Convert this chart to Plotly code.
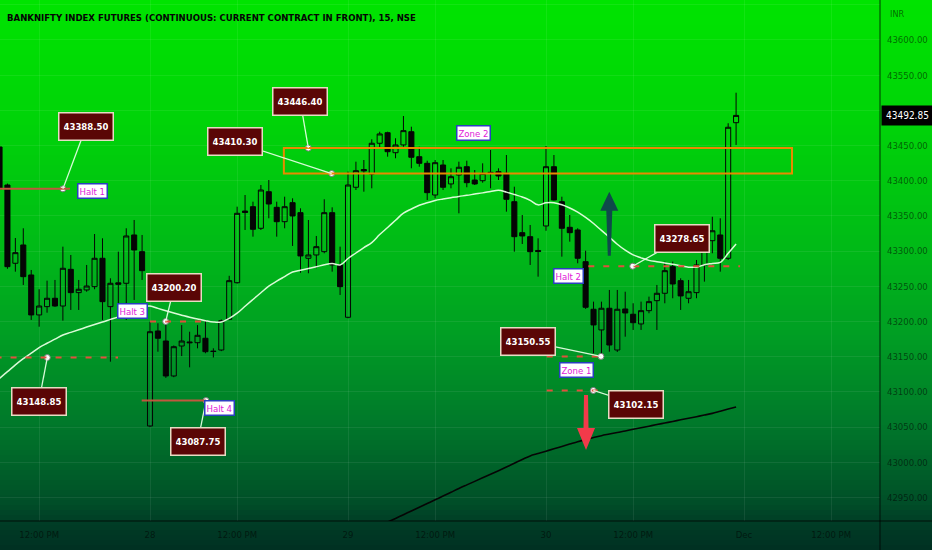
import plotly.graph_objects as go

# ---------------- data ----------------
bar_index = list(range(-19, 75))   # 15-minute bars, 0 = 28 Nov 09:15

opens = [43448.0, 43394.0, 43282.8, 43308.8, 43266.2, 43209.4, 43221.2, 43233.1, 43222.1, 43274.2,
         43241.1, 43244.9, 43249.6, 43289.9, 43221.2, 43255.0, 43254.4, 43323.0, 43299.3,
         43051.7, 43186.6, 43172.4, 43122.7, 43165.3, 43171.0, 43170.0, 43176.3, 43158.0, 43159.6,
         43203.2, 43255.2, 43357.0, 43363.2, 43332.5, 43384.5, 43362.3, 43341.9, 43368.9, 43354.7,
         43289.9, 43294.6, 43299.3, 43354.7, 43280.4,
         43206.1, 43390.8, 43416.0, 43409.6, 43453.3, 43468.3, 43439.9, 43450.9, 43469.7, 43434.2,
         43424.8, 43379.8, 43422.4, 43395.5, 43408.2, 43420.0, 43401.1, 43400.1, 43412.0, 43412.9,
         43410.6, 43370.3, 43326.3, 43320.6, 43301.0,
         43335.8, 43420.0, 43370.3, 43333.9, 43330.1, 43285.1, 43217.5, 43188.1, 43218.9, 43159.6,
         43217.9, 43210.4, 43196.6, 43215.5, 43229.7, 43240.2, 43278.0, 43258.1, 43233.1, 43241.1,
         43280.4, 43314.9, 43323.0, 43289.9, 43482.5]
highs = [43452.0, 43396.0, 43318.7, 43332.5, 43273.3, 43245.9, 43258.1, 43259.1, 43306.4, 43294.6,
         43259.1, 43280.4, 43324.4, 43318.3, 43261.5, 43299.3, 43332.5, 43344.3, 43323.0,
         43199.8, 43197.6, 43200.2, 43166.0, 43195.0, 43185.6, 43195.0, 43201.3, 43162.0, 43203.0,
         43265.0, 43363.2, 43379.8, 43370.3, 43394.0, 43401.1, 43370.3, 43377.4, 43375.1, 43360.9,
         43344.3, 43321.6, 43373.7, 43362.3, 43306.4,
         43413.0, 43427.1, 43429.5, 43458.9, 43469.7, 43469.7, 43460.4, 43492.0, 43476.8, 43448.4,
         43428.5, 43429.5, 43429.5, 43417.7, 43427.1, 43428.5, 43415.3, 43424.8, 43443.7, 43417.7,
         43436.6, 43391.6, 43351.4, 43337.2, 43318.3,
         43449.4, 43436.6, 43377.4, 43351.4, 43332.5, 43300.7, 43228.3, 43228.3, 43244.9, 43244.9,
         43242.4, 43226.0, 43228.3, 43235.4, 43252.0, 43285.1, 43285.1, 43261.5, 43259.1, 43287.5,
         43311.6, 43348.9, 43346.7, 43481.7, 43525.1]
lows = [43386.0, 43275.0, 43270.9, 43252.0, 43202.3, 43192.7, 43212.6, 43221.0, 43201.3, 43216.5,
        43216.5, 43242.4, 43245.9, 43202.3, 43143.0, 43226.0, 43202.3, 43230.7, 43259.1,
        43050.0, 43157.2, 43120.0, 43121.0, 43151.0, 43135.0, 43162.0, 43155.0, 43149.0, 43158.0,
        43202.0, 43254.0, 43330.1, 43320.6, 43330.1, 43346.7, 43320.6, 43332.5, 43307.4, 43269.4,
        43268.6, 43275.7, 43297.0, 43270.9, 43237.8,
        43204.7, 43386.9, 43384.5, 43389.3, 43446.0, 43434.2, 43432.0, 43448.4, 43417.7, 43420.0,
        43372.7, 43375.1, 43386.9, 43389.3, 43353.8, 43390.8, 43394.0, 43397.3, 43389.3, 43401.1,
        43356.1, 43299.3, 43310.2, 43280.4, 43263.8,
        43329.0, 43372.0, 43292.2, 43313.5, 43282.8, 43218.0, 43155.0, 43150.55, 43157.2, 43156.8,
        43178.5, 43188.1, 43188.1, 43211.8, 43188.1, 43226.0, 43233.1, 43216.5, 43226.0, 43233.1,
        43256.7, 43297.0, 43270.9, 43287.5, 43450.9]
closes = [43388.5, 43278.0, 43297.9, 43263.8, 43209.4, 43222.1, 43233.1, 43222.1, 43275.7, 43241.1,
          43245.9, 43250.5, 43289.9, 43228.3, 43254.4, 43253.0, 43321.6, 43301.7, 43272.3,
          43185.6, 43176.3, 43122.7, 43164.3, 43172.4, 43170.0, 43180.5, 43157.2, 43157.5, 43201.3,
          43258.1, 43353.8, 43355.0, 43331.1, 43386.9, 43367.0, 43341.9, 43363.2, 43350.0, 43293.2,
          43294.6, 43306.4, 43354.7, 43280.4, 43249.6,
          43394.0, 43414.3, 43414.0, 43453.3, 43466.5, 43441.3, 43450.9, 43471.2, 43433.4, 43424.8,
          43383.1, 43425.7, 43390.8, 43405.8, 43419.2, 43397.3, 43395.5, 43410.6, 43411.0, 43406.8,
          43373.7, 43320.6, 43321.6, 43299.3, 43299.5,
          43420.0, 43372.7, 43332.5, 43326.3, 43289.9, 43220.3, 43195.2, 43218.9, 43166.7, 43217.5,
          43212.2, 43198.4, 43215.5, 43228.3, 43240.2, 43272.3, 43253.4, 43236.4, 43242.4, 43280.4,
          43306.4, 43329.0, 43289.9, 43476.0, 43492.85]

# white moving average (one value per bar, bar_index order)
ma_fast = [43119.4, 43128.8, 43138.5, 43147.3, 43155.1, 43163.1, 43169.2, 43175.0, 43181.0, 43184.6,
           43188.3, 43192.2, 43195.9, 43199.4, 43203.1, 43206.7, 43211.3, 43216.2, 43220.9,
           43222.1, 43218.7, 43215.5, 43212.2, 43209.1, 43206.1, 43203.7, 43201.3, 43199.4, 43199.4,
           43204.5, 43211.9, 43221.7, 43231.4, 43240.9, 43250.4, 43257.4, 43263.9, 43270.4, 43273.0,
           43275.4, 43277.8, 43280.7, 43282.4, 43280.4,
           43289.6, 43297.4, 43305.1, 43312.2, 43323.6, 43333.7, 43343.9, 43354.0, 43359.9, 43365.2,
           43368.7, 43372.0, 43374.1, 43376.0, 43377.8, 43379.3, 43381.1, 43382.8, 43384.8, 43386.6,
           43383.9, 43380.4, 43377.0, 43372.2, 43365.8,
           43368.7, 43368.9, 43366.0, 43361.4, 43355.5, 43347.9, 43339.3, 43329.5, 43319.9, 43309.8,
           43301.4, 43294.7, 43290.5, 43286.9, 43285.1, 43283.2, 43281.4, 43279.2, 43277.3, 43277.3,
           43280.8, 43282.5, 43284.1, 43296.9, 43310.2]

# black (slow) moving average, bars 28..74
ma_slow_index = list(range(28, 75))
ma_slow = [42904.5, 42909.9, 42915.2, 42920.4, 42925.7, 42930.9, 42936.2, 42941.5, 42946.9, 42952.1,
           42957.5, 42962.9, 42968.0, 42973.0, 42978.1, 42983.2, 42988.2, 42993.4, 42998.7, 43004.0,
           43009.2, 43012.5, 43015.9, 43019.3, 43022.6, 43026.0, 43029.4, 43032.4, 43035.2, 43037.9,
           43040.2, 43042.5, 43044.6, 43046.9, 43049.1, 43051.4, 43053.7, 43055.9, 43058.1, 43060.4,
           43062.6, 43064.9, 43067.2, 43069.6, 43072.7, 43075.7, 43078.7]

x_tick_pos = [-14, 0, 11, 25, 36, 50, 61, 75, 86]
x_tick_text = ["12:00 PM", "28", "12:00 PM", "29", "12:00 PM", "30", "12:00 PM", "Dec", "12:00 PM"]

# price levels: (value text, price, anchor bar, label box bar, label box price)
level_labels = [
    ("43388.50", 43388.50, -11.0, -8.04, 43477.4),
    ("43148.85", 43148.85, -12.97, -14.03, 43086.5),
    ("43200.20", 43200.20, 1.98, 3.05, 43249.1),
    ("43087.75", 43087.75, 7.07, 6.05, 43030.1),
    ("43446.40", 43446.40, 19.99, 18.98, 43512.6),
    ("43410.30", 43410.30, 22.94, 10.73, 43455.1),
    ("43278.65", 43278.65, 60.95, 67.23, 43318.7),
    ("43150.55", 43150.55, 56.94, 47.73, 43172.1),
    ("43102.15", 43102.15, 55.97, 61.30, 43082.9),
]
# level lines: (price, start bar, end bar, dashed)
level_lines = [
    (43388.50, -19.5, -10.1, False),
    (43148.85, -19.5, -4.04, True),
    (43200.20, 0.0, 7.16, True),
    (43087.75, -1.05, 7.07, False),
    (43278.65, 55.34, 74.5, True),
    (43150.55, 50.09, 56.8, True),
    (43102.15, 50.09, 57.03, True),
]
tag_labels = [
    ("Halt 1", -7.26, 43384.8),
    ("Halt 3", -2.21, 43215.0),
    ("Halt 4", 8.78, 43077.3),
    ("Zone 2", 40.9, 43467.2),
    ("Halt 2", 52.8, 43264.1),
    ("Zone 1", 53.9, 43131.9),
]
zone2 = (16.9, 81.06, 43410.30, 43446.40)
last_price = 43492.85

# ---------------- figure ----------------
W, H = 932, 550
ML, MR, MT, MB = 0, 52, 0, 29
plot_w, plot_h = W - ML - MR, H - MT - MB
FONT = "DejaVu Sans Condensed, Roboto, sans-serif"

fig = go.Figure()

# background gradient (styling)
stops = [(0, (0, 228, 0)), (120, (0, 212, 8)), (240, (0, 188, 22)), (330, (0, 160, 35)),
         (420, (0, 122, 42)), (500, (0, 80, 40)), (521, (0, 62, 38)), (550, (0, 48, 34))]

def col_at(yp):
    for (y0, c0), (y1, c1) in zip(stops[:-1], stops[1:]):
        if y0 <= yp <= y1:
            t = (yp - y0) / (y1 - y0)
            return tuple(round(a + (b - a) * t) for a, b in zip(c0, c1))
    return stops[-1][1]

shapes = []
step = 5
for y in range(0, H, step):
    c = col_at(y + step / 2)
    shapes.append(dict(type="rect", xref="paper", yref="paper", layer="below",
                       x0=0, x1=W / plot_w, y0=(plot_h - y) / plot_h, y1=(plot_h - y - step - 1) / plot_h,
                       line=dict(width=0), fillcolor="rgb(%d,%d,%d)" % c))

# axis border lines
shapes.append(dict(type="line", xref="paper", yref="paper", x0=0, x1=W / plot_w, y0=0, y1=0,
                   line=dict(color="rgba(0,0,0,0.75)", width=1)))
shapes.append(dict(type="line", xref="paper", yref="paper", x0=1, x1=1, y0=-MB / plot_h, y1=1,
                   line=dict(color="rgba(0,0,0,0.75)", width=1)))

# zone 2 rectangle
shapes.append(dict(type="rect", xref="x", yref="y", x0=zone2[0], x1=zone2[1], y0=zone2[2], y1=zone2[3],
                   line=dict(color="#e88a00", width=2), fillcolor="rgba(0,0,0,0)"))

# level lines
for price, xa, xb, dashed in level_lines:
    shapes.append(dict(type="line", xref="x", yref="y", x0=xa, x1=xb, y0=price, y1=price,
                       line=dict(color="#e0503c" if dashed else "#c0583e", width=2,
                                 dash="6px,9px" if dashed else "solid")))

# connectors
for txt, price, xp, xb, yb in level_labels:
    shapes.append(dict(type="line", xref="x", yref="y", x0=xp, y0=price, x1=xb, y1=yb,
                       line=dict(color="rgba(225,255,225,0.95)", width=1.3)))

# arrows (pixel-sized paths anchored at tip)
shapes.append(dict(type="path", xref="x", yref="y", xsizemode="pixel", ysizemode="pixel",
                   xanchor=57.99, yanchor=43384.5,
                   path="M0,0 L9,-19 L3,-19 L1.5,-64 L-1.5,-64 L-3,-19 L-9,-19 Z",
                   fillcolor="#0f4a4a", line=dict(width=0)))
shapes.append(dict(type="path", xref="x", yref="y", xsizemode="pixel", ysizemode="pixel",
                   xanchor=55.05, yanchor=43017.6,
                   path="M0,0 L-9,22 L-2.5,22 L-2,55 L2,55 L2.5,22 L9,22 Z",
                   fillcolor="#f23a4a", line=dict(width=0)))

# slow MA (black)
fig.add_trace(go.Scatter(x=ma_slow_index, y=ma_slow, mode="lines", line_shape="spline",
                         line=dict(color="#050505", width=1.6), hoverinfo="skip"))
# candles
fig.add_trace(go.Candlestick(x=bar_index, open=opens, high=highs, low=lows, close=closes,
                             increasing=dict(line=dict(color="#050505", width=1), fillcolor="rgba(0,0,0,0)"),
                             decreasing=dict(line=dict(color="#050505", width=1), fillcolor="#050505"),
                             whiskerwidth=0, hoverinfo="skip"))
# fast MA (white)
fig.add_trace(go.Scatter(x=bar_index, y=ma_fast, mode="lines", line_shape="spline",
                         line=dict(color="rgba(230,255,225,0.95)", width=1.5), hoverinfo="skip"))
# anchor dots
fig.add_trace(go.Scatter(x=[l[2] for l in level_labels], y=[l[1] for l in level_labels], mode="markers",
                         marker=dict(size=6, color="white", line=dict(color="#777", width=1)),
                         hoverinfo="skip"))

annotations = []
annotations.append(dict(xref="paper", yref="paper", x=0, xshift=5, y=1 - 18 / plot_h, xanchor="left",
                        yanchor="middle", showarrow=False,
                        text="<b>BANKNIFTY INDEX FUTURES (CONTINUOUS: CURRENT CONTRACT IN FRONT), 15, NSE</b>",
                        font=dict(family=FONT, size=9.5, color="#050505")))
annotations.append(dict(xref="paper", yref="paper", x=1, xshift=8, y=1 - 14 / plot_h, xanchor="left",
                        yanchor="middle", showarrow=False, text="INR",
                        font=dict(family=FONT, size=9, color="rgba(0,0,0,0.55)")))
annotations.append(dict(xref="paper", yref="y", x=1, xshift=1, y=last_price, xanchor="left",
                        yanchor="middle", showarrow=False, text="43492.85", bgcolor="#000000",
                        borderpad=4, font=dict(family=FONT, size=10, color="white")))
for txt, price, xp, xb, yb in level_labels:
    annotations.append(dict(xref="x", yref="y", x=xb, y=yb, showarrow=False, text="<b>%s</b>" % txt,
                            bgcolor="#5a0606", bordercolor="#e8dcc4", borderwidth=1.5, borderpad=4,
                            width=45, height=18,
                            font=dict(family=FONT, size=9.5, color="white")))
for txt, xb, yb in tag_labels:
    annotations.append(dict(xref="x", yref="y", x=xb, y=yb, showarrow=False, text=txt,
                            bgcolor="white", bordercolor="#2a3fc0", borderwidth=1.5, borderpad=1,
                            font=dict(family=FONT, size=9.5, color="#e01ad8")))

tickfont = dict(family=FONT, size=9.5, color="rgba(0,0,0,0.55)")
fig.update_layout(
    width=W, height=H, margin=dict(l=ML, r=MR, t=MT, b=MB),
    paper_bgcolor="rgb(0,48,34)", plot_bgcolor="rgba(0,0,0,0)",
    showlegend=False, shapes=shapes, annotations=annotations,
    boxgap=0.2, boxgroupgap=0.2, hovermode=False,
    xaxis=dict(range=[-18.94, 92.17], tickvals=x_tick_pos, ticktext=x_tick_text, showgrid=True,
               gridcolor="rgba(255,255,255,0.07)", gridwidth=1, zeroline=False, showline=False,
               ticks="", ticklabelstandoff=6, tickfont=tickfont, rangeslider=dict(visible=False),
               fixedrange=True),
    yaxis=dict(range=[42916.7, 43656.8], side="right", dtick=50, tick0=0, tickformat=".2f",
               showgrid=True, gridcolor="rgba(255,255,255,0.07)", gridwidth=1, zeroline=False,
               showline=False, ticks="", ticklabelstandoff=6, tickfont=tickfont, fixedrange=True),
)

fig.write_html("out.html", config={"displayModeBar": False},
               post_script="document.body.style.margin='0';document.body.style.padding='0';")
